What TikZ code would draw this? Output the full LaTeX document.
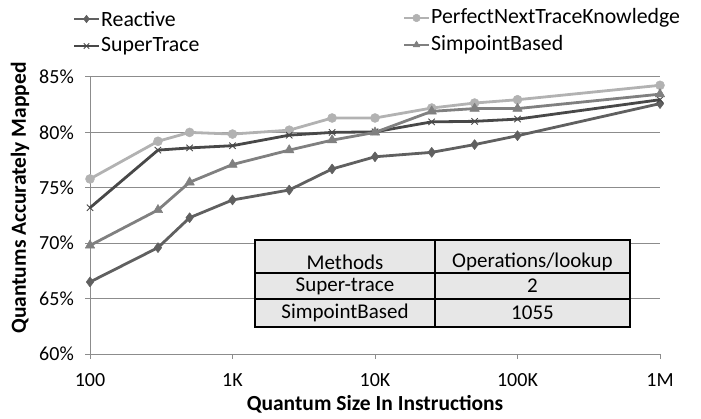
\documentclass[tikz,border=0pt]{standalone}
\usepackage{fontspec}
\setmainfont{Carlito}
\usetikzlibrary{plotmarks}

\definecolor{reactivegray}{RGB}{96,96,96}
\definecolor{perfectgray}{RGB}{178,178,178}
\definecolor{supergray}{RGB}{72,72,72}
\definecolor{simpointgray}{RGB}{128,128,128}
\definecolor{gridgray}{RGB}{140,140,140}
\definecolor{cellgray}{RGB}{231,231,231}

\tikzset{
  gridline/.style={gridgray, line width=1pt},
  axisline/.style={gridgray, line width=1pt},
  series/.style={line width=2.8pt, line join=round},
  reactive/.style={series, reactivegray, mark=diamond*, mark size=5pt,
    mark options={fill=reactivegray, line width=0.5pt}},
  perfect/.style={series, perfectgray, mark=*, mark size=4.5pt,
    mark options={fill=perfectgray, line width=0.5pt}},
  supertrace/.style={series, supergray, mark=x, mark size=4.5pt,
    mark options={line width=0.9pt}},
  simpoint/.style={series, simpointgray, mark=triangle*, mark size=5.5pt,
    mark options={fill=simpointgray, line width=0.5pt}},
  legendline/.style={line width=2pt, mark size=3.8pt, mark indices={2}},
  ticklabel/.style={font=\fontsize{20}{24}\selectfont, inner sep=0pt},
  axistitle/.style={font=\fontsize{21.5}{26}\selectfont\bfseries, inner sep=0pt},
  legendtext/.style={font=\fontsize{21.8}{26}\selectfont, anchor=west, inner sep=0pt},
  cellbox/.style={draw=black, fill=cellgray, line width=1.3pt},
  celltext/.style={font=\fontsize{21}{25}\selectfont, inner sep=0pt}
}

\begin{document}
\begin{tikzpicture}[x=1pt, y=1pt]
    \useasboundingbox (0,0) rectangle (701,418);

    % Plot area: x in log10 of quantum size, y in percent
    \begin{scope}[shift={(-195pt,-600.8pt)}, x=142.5pt, y=11.08pt]
        \foreach \p in {65,70,...,85}
            \draw[gridline] (2,\p) -- (6,\p);
        \draw[axisline] (2,60) -- (6,60);
        \draw[axisline] (2,60) -- (2,85);
        \foreach \d in {2,...,6}
            \draw[axisline] (\d,60) -- ++(0,-5pt);
        \foreach \p in {60,65,...,85}
            \draw[axisline] (2,\p) -- ++(-5pt,0);

        % Tick labels
        \foreach \d/\lab in {2/100,3/1K,4/10K,5/100K,6/1M}
            \node[ticklabel, yshift=-26pt] (xtick\d) at (\d,60) {\lab};
        \foreach \p in {60,65,...,85}
            \node[ticklabel, anchor=east, xshift=-16pt] (ytick\p) at (2,\p) {\p\%};

        % Series
        \draw[reactive] plot coordinates {(2,66.5) (2.477,69.6) (2.699,72.3)
            (3,73.9) (3.398,74.8) (3.699,76.7) (4,77.8) (4.398,78.2)
            (4.699,78.9) (5,79.7) (6,82.6)};
        \draw[perfect] plot coordinates {(2,75.8) (2.477,79.2) (2.699,80.0)
            (3,79.85) (3.398,80.2) (3.699,81.3) (4,81.3) (4.398,82.2)
            (4.699,82.65) (5,82.95) (6,84.25)};
        \draw[supertrace] plot coordinates {(2,73.2) (2.477,78.4) (2.699,78.6)
            (3,78.8) (3.398,79.75) (3.699,80.0) (4,80.05) (4.398,80.95)
            (4.699,81.0) (5,81.2) (6,82.95)};
        \draw[simpoint] plot coordinates {(2,69.8) (2.477,73.0) (2.699,75.5)
            (3,77.1) (3.398,78.4) (3.699,79.3) (4,80.0) (4.398,81.9)
            (4.699,82.15) (5,82.15) (6,83.45)};
    \end{scope}

    % Inset table
    \draw[cellbox] (255,91) rectangle (630,178);
    \draw[line width=1.3pt] (255,145) -- (630,145);
    \draw[line width=1.3pt] (255,119) -- (630,119);
    \draw[line width=1.3pt] (435,91) -- (435,178);
    \node[celltext] (hmethod) at (345,156) {Methods};
    \node[celltext] (hops) at (532.5,156) {Operations/lookup};
    \node[celltext] (rsuper) at (345,132) {Super-trace};
    \node[celltext] (vsuper) at (532.5,132) {2};
    \node[celltext] (rsimp) at (345,105) {SimpointBased};
    \node[celltext] (vsimp) at (532.5,105) {1055};

    % Axis titles
    \node[axistitle] (xtitle) at (375,14) {Quantum Size In Instructions};
    \node[axistitle, rotate=90] (ytitle) at (20,220) {Quantums Accurately Mapped};

    % Legend
    \draw[reactive, legendline] plot coordinates {(74,399) (86.5,399) (99,399)};
    \node[legendtext] (lreactive) at (101,399) {Reactive};
    \draw[supertrace, legendline] plot coordinates {(74,372) (86.5,372) (99,372)};
    \node[legendtext] (lsuper) at (101,372) {SuperTrace};
    \draw[perfect, legendline] plot coordinates {(404,400) (416.5,400) (429,400)};
    \node[legendtext] (lperfect) at (431,400) {PerfectNextTraceKnowledge};
    \draw[simpoint, legendline, mark size=4pt] plot coordinates {(404,373) (416.5,373) (429,373)};
    \node[legendtext] (lsimp) at (431,373) {SimpointBased};
\end{tikzpicture}
\end{document}
